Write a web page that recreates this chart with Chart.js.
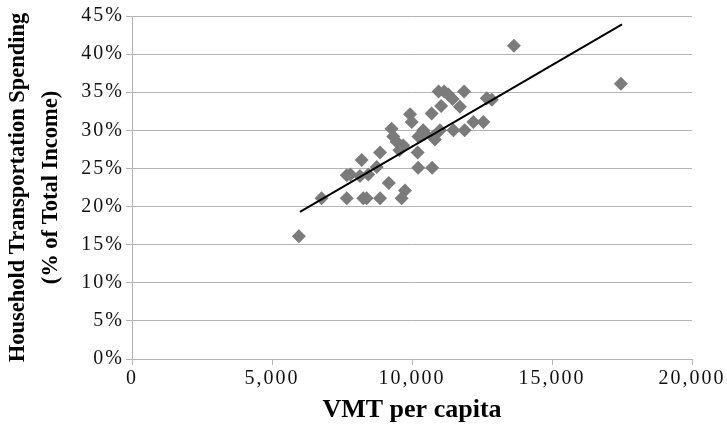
<!DOCTYPE html>
<html>
<head>
<meta charset="utf-8">
<script src="https://cdn.jsdelivr.net/npm/chart.js@4"></script>
<style>
  html, body { margin: 0; padding: 0; background: #fff; }
  #wrap { width: 727px; height: 427px; }
</style>
</head>
<body>
<div id="wrap"><canvas id="chart" width="727" height="427"></canvas></div>
<script>
// VMT per capita (x) and transportation spending as % of income (y)
const vmt = [
    5960, 6770, 7670, 7670, 7800, 8140, 8440, 8200, 8260, 8380,
    8740, 8860, 8860, 9170, 9270, 9330, 9450, 9630, 9750, 9690,
    9550, 9930, 9990, 10200, 10220, 10720, 10230, 10400, 10290, 10460,
    10820, 11000, 11480, 11880, 10700, 11040, 11710, 10950, 11150, 11300,
    11450, 11860, 12670, 12850, 12190, 12550, 13640, 17460, 10760
];
const spending = [
    16.1, 21.1, 21.1, 24.1, 24.2, 24.0, 24.2, 26.1, 21.1, 21.1,
    25.2, 21.1, 27.1, 23.1, 30.2, 29.2, 28.5, 21.1, 22.1, 28.0,
    27.4, 32.1, 31.1, 27.1, 25.1, 25.1, 29.2, 30.0, 29.3, 29.6,
    28.8, 30.0, 30.0, 30.0, 32.2, 33.2, 33.1, 35.1, 35.1, 34.7,
    34.1, 35.1, 34.2, 34.0, 31.1, 31.1, 41.1, 36.1, 29.2
];

// end points of the linear trend line
const trendX = [6000, 17500];
const trendY = [19.3, 43.9];

const xTicks = [0, 5000, 10000, 15000, 20000];
const yTicks = [0, 5, 10, 15, 20, 25, 30, 35, 40, 45];

const serif = "'Liberation Serif', 'Times New Roman', serif";
const gridGrey = '#b4b4b4';

const points = vmt.map((v, i) => ({ x: v, y: spending[i] }));
const trend = trendX.map((v, i) => ({ x: v, y: trendY[i] }));

// tick labels in the original are set wide, so space the letters a little
const wideTicks = {
    id: 'wideTicks',
    afterLayout(chart) {
        Object.values(chart.scales).forEach((scale) => {
            if (scale._wide) return;
            const orig = scale.drawLabels;
            scale.drawLabels = function (area) {
                const ctx = this.ctx;
                ctx.save();
                ctx.letterSpacing = '2px';
                orig.call(this, area);
                ctx.restore();
            };
            scale._wide = true;
        });
    },
};

new Chart(document.getElementById('chart'), {
    type: 'scatter',
    data: {
        datasets: [
            {
                type: 'line',
                data: trend,
                borderColor: '#000',
                borderWidth: 2,
                pointRadius: 0,
                fill: false,
                order: 0,
            },
            {
                data: points,
                pointStyle: 'rectRot',
                pointRadius: 7,
                pointBackgroundColor: '#7b7b7b',
                pointBorderWidth: 0,
                order: 1,
            },
        ],
    },
    plugins: [wideTicks],
    options: {
        responsive: false,
        animation: false,
        layout: { padding: { top: 16, right: 35, left: 0, bottom: 0 } },
        plugins: {
            legend: { display: false },
            tooltip: { enabled: false },
        },
        scales: {
            x: {
                type: 'linear',
                min: 0,
                max: 20000,
                afterFit: (s) => { s.height = 68; },
                afterBuildTicks: (s) => { s.ticks = xTicks.map((v) => ({ value: v })); },
                border: { color: gridGrey, width: 1 },
                grid: { drawOnChartArea: false, drawTicks: true, tickLength: 6, color: gridGrey },
                ticks: {
                    color: '#111',
                    padding: 2,
                    maxRotation: 0,
                    font: { family: serif, size: 20 },
                    callback: (v) => v.toLocaleString('en-US'),
                },
                title: {
                    display: true,
                    text: 'VMT per capita',
                    color: '#000',
                    font: { family: serif, size: 26, weight: 'bold', lineHeight: 1.2 },
                    padding: { top: 0, bottom: 1 },
                },
            },
            y: {
                min: 0,
                max: 45,
                afterFit: (s) => { s.width = 132; },
                afterBuildTicks: (s) => { s.ticks = yTicks.map((v) => ({ value: v })); },
                border: { color: gridGrey, width: 1 },
                grid: { color: gridGrey, tickLength: 6 },
                ticks: {
                    color: '#111',
                    padding: 2,
                    font: { family: serif, size: 20 },
                    callback: (v) => v + '%',
                },
                title: {
                    display: true,
                    text: ['Household Transportation Spending', '(% of Total Income)'],
                    color: '#000',
                    font: { family: serif, size: 22.5, weight: 'bold', lineHeight: 1.5 },
                    padding: { top: 1, bottom: 0 },
                },
            },
        },
    },
});
</script>
</body>
</html>
